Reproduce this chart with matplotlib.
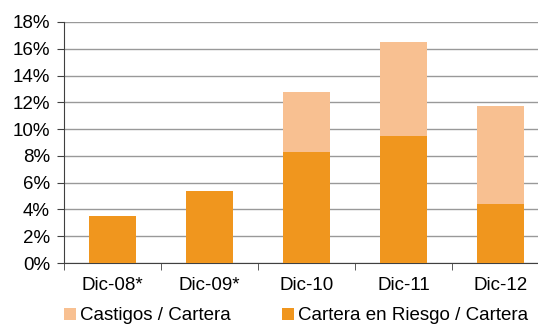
import matplotlib.pyplot as plt
import numpy as np

plt.rcParams['font.family'] = ['Liberation Sans', 'DejaVu Sans']

categories = ['Dic-08*', 'Dic-09*', 'Dic-10', 'Dic-11', 'Dic-12']
riesgo = [3.5, 5.4, 8.3, 9.5, 4.4]      # Cartera en Riesgo / Cartera (%)
total = [3.5, 5.4, 12.8, 16.5, 11.7]    # top of stacked bar (%)
castigos = [t - r for t, r in zip(total, riesgo)]  # Castigos / Cartera (%)

darkOrange = '#F0961E'
lightOrange = '#F8C091'
fs = 13.5

fig = plt.figure(figsize=(5.38, 3.25), dpi=100)
ax = fig.add_axes([64/538, 62/325, 485/538, 241/325])

x = np.arange(len(categories))
ax.bar(x, riesgo, width=0.475, color=darkOrange, zorder=3,
       label='Cartera en Riesgo / Cartera')
ax.bar(x, castigos, width=0.475, bottom=riesgo, color=lightOrange, zorder=3,
       label='Castigos / Cartera')

ax.set_xlim(-0.5, len(categories) - 0.5)
ax.set_ylim(0, 18)
ax.set_yticks(np.arange(0, 19, 2))
ax.set_yticklabels(['%d%%' % v for v in range(0, 19, 2)], fontsize=fs)
ax.yaxis.grid(True, color='#999999', linewidth=1, zorder=0)

ax.set_xticks(x)
ax.set_xticklabels(categories, fontsize=fs)
ax.set_xticks(np.arange(-0.5, len(categories), 1), minor=True)
ax.tick_params(axis='x', which='major', length=0, pad=10)
ax.tick_params(axis='x', which='minor', length=5, color='#404040')
ax.tick_params(axis='y', length=5, color='#404040', pad=5)

for s in ['top', 'right']:
    ax.spines[s].set_visible(False)
ax.spines['left'].set_color('#404040')
ax.spines['bottom'].set_color('#404040')

handles, labels = ax.get_legend_handles_labels()
fig.legend(handles[::-1], labels[::-1], loc='lower left',
           bbox_to_anchor=(47/538, -0.05), ncol=2, frameon=False,
           fontsize=fs, handlelength=0.65, handleheight=0.65,
           handletextpad=0.2, columnspacing=2.75)

fig.savefig('out.png', dpi=100)
